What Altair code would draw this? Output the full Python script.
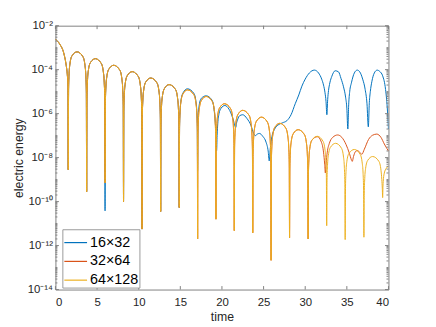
import altair as alt
import pandas as pd

# ---------------- data (time, log10 of electric energy) ----------------
series_names = ["16×32", "32×64", "64×128"]
series_colors = ["#0072BD", "#D95319", "#EDB120"]

# common to all three resolutions, t = 0 ... 14.87
t_shared = [0.0, 0.52, 1.03, 1.3, 1.42, 1.5, 1.54,
            1.58, 1.64, 1.74, 1.99, 2.6, 3.3, 3.55, 3.65, 3.71, 3.75,
            3.79, 3.85, 3.95, 4.2, 4.8, 5.51, 5.76, 5.86, 5.92, 5.96,
            6.0, 6.06, 6.16, 6.41, 7.0, 7.73, 7.98, 8.08, 8.14, 8.18,
            8.22, 8.28, 8.38, 8.63, 9.22, 9.95, 10.2, 10.3, 10.36, 10.4,
            10.44, 10.5, 10.6, 10.85, 11.45, 12.19, 12.44, 12.54, 12.6, 12.64,
            12.68, 12.74, 12.84, 13.09, 13.65, 14.42, 14.67, 14.77, 14.83, 14.87]
logE_shared = [-2.62, -2.84, -3.29, -3.82, -4.2, -4.75, -8.55,
               -4.89, -4.19, -3.74, -3.37, -3.19, -3.41, -3.81, -4.27, -4.99, -9.55,
               -5.2, -4.5, -4.05, -3.68, -3.5, -3.72, -4.12, -4.58, -5.3, -9.15,
               -5.5, -4.8, -4.35, -3.98, -3.8, -4.02, -4.42, -4.88, -5.6, -10.0,
               -5.79, -5.09, -4.64, -4.27, -4.09, -4.31, -4.71, -5.17, -5.89, -11.25,
               -6.08, -5.38, -4.93, -4.56, -4.38, -4.6, -5.0, -5.46, -6.18, -10.45,
               -6.38, -5.68, -5.23, -4.86, -4.68, -4.9, -5.3, -5.76, -6.48, -10.27]
# deeper dip of the 16x32 run
dips_16x32 = {5.96: -10.42}

# common to 32x64 and 64x128, t = 14.91 ... 30.35
t_fine = [14.91, 14.97, 15.07, 15.32, 15.85, 16.63, 16.88, 16.98, 17.04, 17.08,
          17.12, 17.18, 17.28, 17.53, 18.1, 18.83, 19.08, 19.18, 19.24, 19.28,
          19.32, 19.38, 19.48, 19.73, 20.3, 21.03, 21.28, 21.38, 21.44, 21.48,
          21.52, 21.58, 21.68, 21.93, 22.5, 23.25, 23.5, 23.6, 23.66, 23.7,
          23.74, 23.8, 23.9, 24.15, 24.75, 25.45, 25.7, 25.8, 25.86, 25.9,
          25.94, 26.0, 26.1, 26.35, 26.95, 27.67, 27.92, 28.02, 28.08, 28.12,
          28.16, 28.22, 28.32, 28.57, 29.15, 29.9, 30.15, 30.25, 30.31, 30.35]
logE_fine = [-6.62, -5.92, -5.47, -5.1, -4.92, -5.14, -5.54, -6.0, -6.72, -11.7,
             -6.92, -6.22, -5.77, -5.4, -5.22, -5.44, -5.84, -6.3, -7.02, -10.8,
             -7.25, -6.55, -6.1, -5.73, -5.55, -5.77, -6.17, -6.63, -7.35, -11.32,
             -7.55, -6.85, -6.4, -6.03, -5.85, -6.07, -6.47, -6.93, -7.65, -11.42,
             -7.86, -7.16, -6.71, -6.34, -6.16, -6.38, -6.78, -7.24, -7.96, -12.67,
             -8.14, -7.44, -6.99, -6.62, -6.44, -6.66, -7.06, -7.52, -8.24, -11.65,
             -8.43, -7.73, -7.28, -6.91, -6.73, -6.95, -7.35, -7.81, -8.53, -11.7]

# 64x128, t = 30.39 ... 40
t_64_end = [30.39, 30.45, 30.55, 30.8, 31.45, 32.13, 32.38, 32.48, 32.54, 32.58,
            32.62, 32.68, 32.78, 33.03, 33.65, 34.35, 34.6, 34.7, 34.76, 34.8,
            34.84, 34.9, 35.0, 35.25, 35.9, 36.6, 36.85, 36.95, 37.01, 37.05,
            37.09, 37.15, 37.25, 37.5, 38.1, 38.85, 39.1, 39.2, 39.26, 39.3,
            39.34, 39.4, 39.5, 39.75, 40.0]
logE_64_end = [-8.73, -8.03, -7.58, -7.21, -7.03, -7.25, -7.65, -8.11, -8.83, -11.1,
               -9.05, -8.35, -7.9, -7.53, -7.35, -7.57, -7.97, -8.43, -9.15, -11.73,
               -9.33, -8.63, -8.18, -7.81, -7.63, -7.85, -8.25, -8.71, -9.43, -11.62,
               -9.65, -8.95, -8.5, -8.13, -7.95, -8.17, -8.57, -9.0, -9.4, -9.82,
               -9.3, -8.95, -8.7, -8.48, -8.38]

# 32x64, t = 30.39 ... 40
t_32_end = [30.39, 30.45, 30.55, 30.8, 31.45, 31.95, 32.2, 32.34, 32.42, 32.5,
            32.65, 32.9, 33.3, 33.9, 34.4, 34.9, 35.3, 35.55, 35.65, 35.8,
            36.05, 36.3, 36.55, 36.8, 37.1, 37.6, 38.1, 38.6, 39.1, 39.5,
            39.8, 40.0]
logE_32_end = [-8.73, -8.03, -7.58, -7.21, -7.05, -7.3, -7.75, -8.3, -8.7, -8.3,
               -7.75, -7.35, -7.08, -6.97, -7.08, -7.4, -7.8, -8.1, -8.17, -7.95,
               -7.72, -7.68, -7.76, -7.85, -7.62, -7.18, -6.98, -6.93, -7.08, -7.38,
               -7.58, -7.7]

# 16x32, t = 14.91 ... 40
t_16_end = [14.91, 14.97, 15.07, 15.32, 15.85, 16.63, 16.88, 16.98, 17.04, 17.07,
            17.11, 17.17, 17.27, 17.53, 18.1, 18.8, 19.05, 19.2, 19.3, 19.36,
            19.42, 19.5, 19.65, 19.9, 20.35, 20.85, 21.2, 21.45, 21.6, 21.66,
            21.74, 21.9, 22.1, 22.5, 23.0, 23.5, 23.8, 24.0, 24.25, 24.5,
            24.9, 25.3, 25.55, 25.68, 25.8, 26.0, 26.3, 26.7, 27.25, 27.8,
            28.3, 28.8, 29.23, 29.6, 30.0, 30.5, 31.1, 31.6, 31.98, 32.2,
            32.37, 32.5, 32.6, 32.7, 32.8, 32.96, 33.2, 33.6, 34.0, 34.3,
            34.6, 34.85, 35.0, 35.12, 35.22, 35.35, 35.55, 35.9, 36.25, 36.55,
            36.9, 37.2, 37.42, 37.58, 37.7, 37.82, 38.0, 38.3, 38.65, 38.95,
            39.3, 39.65, 39.85, 40.0]
logE_16_end = [-6.6, -5.9, -5.43, -5.06, -4.87, -5.08, -5.45, -5.9, -6.6, -8.6,
               -6.6, -5.95, -5.6, -5.3, -5.19, -5.38, -5.8, -6.4, -7.1, -7.68,
               -7.0, -6.45, -6.0, -5.75, -5.63, -5.8, -6.1, -6.4, -6.6, -6.63,
               -6.45, -6.25, -6.1, -6.05, -6.22, -6.55, -6.9, -7.0, -6.93, -6.9,
               -7.03, -7.3, -7.7, -8.15, -7.6, -7.05, -6.72, -6.53, -6.42, -6.32,
               -6.05, -5.55, -5.15, -4.75, -4.43, -4.15, -4.02, -4.15, -4.43, -4.7,
               -5.03, -5.45, -6.05, -5.35, -4.95, -4.6, -4.3, -4.05, -4.1, -4.4,
               -4.78, -5.25, -5.75, -6.7, -5.6, -4.98, -4.6, -4.15, -4.02, -4.1,
               -4.43, -4.9, -5.55, -6.6, -5.5, -5.0, -4.55, -4.15, -4.02, -4.08,
               -4.28, -4.9, -5.7, -6.7]

x_ticks = [0, 5, 10, 15, 20, 25, 30, 35, 40]
y_major = [1e-14, 1e-12, 1e-10, 1e-8, 1e-6, 1e-4, 1e-2]
y_tick_labels = ["10⁻¹⁴", "10⁻¹²", "10⁻¹⁰", "10⁻⁸", "10⁻⁶", "10⁻⁴", "10⁻²"]
y_minor = [k * 10.0 ** n for n in range(-14, -2) for k in range(1, 10)
           if not (k == 1 and n % 2 == 0)]

# ---------------- build table ----------------
def build(name, ts, vs, override=None):
    rows = []
    for t, v in zip(ts, vs):
        if override and t in override:
            v = override[t]
        rows.append({"series": name, "t": t, "logE": v})
    return rows

rows = []
rows += build("16×32", t_shared + t_16_end, logE_shared + logE_16_end, dips_16x32)
rows += build("32×64", t_shared + t_fine + t_32_end, logE_shared + logE_fine + logE_32_end)
rows += build("64×128", t_shared + t_fine + t_64_end, logE_shared + logE_fine + logE_64_end)
df = pd.DataFrame(rows)
df["E"] = 10.0 ** df["logE"]
df["i"] = range(len(df))

# ---------------- chart ----------------
W, H = 337, 267
FONT = "Liberation Sans"
TXT = "#262626"
AX = "#808080"

xscale = alt.Scale(domain=[0, 40], nice=False, zero=False)
yscale = alt.Scale(type="log", domain=[1e-14, 1e-2], nice=False)
cscale = alt.Scale(domain=series_names, range=series_colors)

label_expr = "[" + ",".join("'%s'" % s for s in y_tick_labels) + "][round(log(datum.value)/LN10/2 + 7)]"

x_axis = alt.Axis(title="time", values=x_ticks, ticks=False, tickSize=0, domain=False,
                  grid=False, labelFont=FONT, labelFontSize=11.5, labelColor=TXT,
                  labelPadding=7, titleFont=FONT, titleFontSize=12.4,
                  titleFontWeight="normal", titleColor=TXT, titleY=31,
                  titleBaseline="alphabetic")
y_axis = alt.Axis(title="electric energy", values=y_major, labelExpr=label_expr,
                  ticks=False, tickSize=0, domain=False, grid=False,
                  labelFont=FONT, labelFontSize=11.5, labelColor=TXT, labelPadding=3,
                  titleFont=FONT, titleFontSize=12.4, titleFontWeight="normal",
                  titleColor=TXT, titleX=-33, titleBaseline="alphabetic")

legend = alt.Legend(title=None, orient="none", legendX=7, legendY=206,
                    symbolType="stroke", symbolSize=529, symbolStrokeWidth=1.2,
                    labelFont=FONT, labelFontSize=14.5, labelColor="#000000",
                    fillColor="white", strokeColor="#999999", padding=1,
                    rowPadding=-5.5, labelOffset=2)

layers = []
for name in series_names:
    layers.append(
        alt.Chart(df[df["series"] == name]).mark_line(
            strokeWidth=1, interpolate="monotone", clip=True
        ).encode(
            x=alt.X("t:Q", scale=xscale, axis=x_axis),
            y=alt.Y("E:Q", scale=yscale, axis=y_axis),
            color=alt.Color("series:N", scale=cscale, legend=legend),
            order=alt.Order("i:Q"),
        )
    )

xt = pd.DataFrame({"t": x_ticks})
ymaj = pd.DataFrame({"E": y_major})
ymin = pd.DataFrame({"E": y_minor})

# inward tick marks of the box (same scales and axes as the lines)
def xtick(y0, y1):
    return alt.Chart(xt).mark_rule(color=AX, strokeWidth=1).encode(
        x=alt.X("t:Q", scale=xscale, axis=x_axis), y=alt.value(y0), y2=alt.value(y1))

def ytick(data, x0, x1):
    return alt.Chart(data).mark_rule(color=AX, strokeWidth=1).encode(
        y=alt.Y("E:Q", scale=yscale, axis=y_axis), x=alt.value(x0), x2=alt.value(x1))

ticks = [xtick(H, H - 3.5), xtick(0, 3.5),
         ytick(ymaj, 0, 3.5), ytick(ymaj, W, W - 3.5),
         ytick(ymin, 0, 2), ytick(ymin, W, W - 2)]

chart = alt.layer(*layers, *ticks).properties(
    width=W, height=H,
    background="white",
    autosize=alt.AutoSizeParams(type="none"),
    padding={"left": 48, "top": 16, "right": 40, "bottom": 36},
).configure_view(stroke=AX, strokeWidth=1)

chart.save("out.html", embed_options={"renderer": "svg", "actions": False})
